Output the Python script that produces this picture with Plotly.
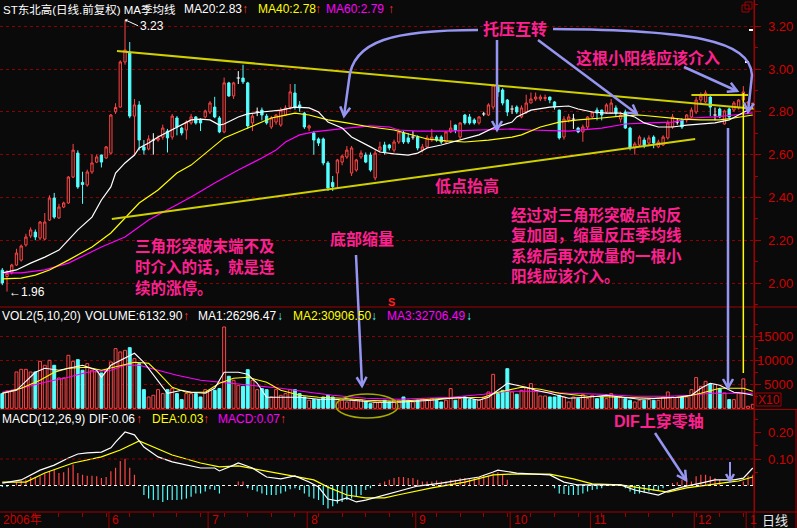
import plotly.graph_objects as go

# ---------------- data ----------------
opens = [2.06, 2.03, 2.047, 2.084, 2.107, 2.178, 2.22, 2.238, 2.21, 2.205,
         2.294, 2.397, 2.304, 2.355, 2.374, 2.495, 2.607, 2.47, 2.458, 2.519,
         2.565, 2.598, 2.584, 2.607, 2.80, 2.822, 3.033, 3.079, 2.78, 2.832,
         2.636, 2.626, 2.668, 2.668, 2.682, 2.71, 2.682, 2.771, 2.724, 2.715,
         2.748, 2.776, 2.762, 2.776, 2.799, 2.822, 2.771, 2.706, 2.935, 2.874,
         2.958, 2.958, 2.935, 2.748, 2.80, 2.808, 2.78, 2.729, 2.752, 2.738,
         2.785, 2.822, 2.888, 2.832, 2.794, 2.724, 2.701, 2.673, 2.673, 2.561,
         2.47, 2.514, 2.565, 2.589, 2.514, 2.528, 2.589, 2.598, 2.598, 2.491,
         2.621, 2.645, 2.645, 2.621, 2.659, 2.701, 2.678, 2.682, 2.682, 2.621,
         2.636, 2.668, 2.682, 2.682, 2.659, 2.706, 2.738, 2.682, 2.785, 2.776,
         2.762, 2.748, 2.79, 2.785, 2.822, 2.916, 2.902, 2.855, 2.813, 2.822,
         2.776, 2.799, 2.841, 2.86, 2.86, 2.862, 2.869, 2.846, 2.808, 2.682,
         2.762, 2.766, 2.724, 2.706, 2.729, 2.776, 2.808, 2.808, 2.799, 2.794,
         2.818, 2.766, 2.799, 2.724, 2.631, 2.645, 2.668, 2.654, 2.682, 2.636,
         2.645, 2.678, 2.729, 2.752, 2.762, 2.762, 2.776, 2.799, 2.855, 2.846,
         2.869, 2.785, 2.813, 2.743, 2.813, 2.808, 2.818, 2.855, 2.84, 2.835]
highs = [2.07, 2.06, 2.09, 2.16, 2.18, 2.23, 2.26, 2.25, 2.29, 2.327,
         2.41, 2.421, 2.37, 2.38, 2.50, 2.65, 2.62, 2.52, 2.53, 2.60,
         2.60, 2.60, 2.64, 2.79, 2.84, 3.04, 3.23, 3.126, 2.86, 2.85,
         2.668, 2.69, 2.70, 2.69, 2.74, 2.72, 2.79, 2.78, 2.73, 2.76,
         2.79, 2.78, 2.77, 2.81, 2.85, 2.87, 2.78, 2.96, 2.94, 2.94,
         2.99, 3.02, 2.94, 2.79, 2.82, 2.82, 2.79, 2.78, 2.79, 2.82,
         2.83, 2.93, 2.93, 2.85, 2.80, 2.74, 2.71, 2.68, 2.68, 2.57,
         2.50, 2.58, 2.60, 2.64, 2.64, 2.58, 2.62, 2.61, 2.61, 2.62,
         2.66, 2.66, 2.65, 2.67, 2.72, 2.71, 2.70, 2.71, 2.69, 2.65,
         2.69, 2.72, 2.69, 2.69, 2.71, 2.76, 2.74, 2.75, 2.79, 2.79,
         2.77, 2.78, 2.80, 2.84, 2.93, 2.92, 2.91, 2.86, 2.83, 2.83,
         2.83, 2.88, 2.89, 2.89, 2.88, 2.88, 2.87, 2.85, 2.81, 2.78,
         2.79, 2.79, 2.73, 2.74, 2.78, 2.80, 2.82, 2.81, 2.84, 2.86,
         2.83, 2.80, 2.81, 2.73, 2.66, 2.69, 2.68, 2.69, 2.69, 2.67,
         2.69, 2.76, 2.79, 2.77, 2.77, 2.79, 2.82, 2.87, 2.89, 2.90,
         2.88, 2.82, 2.82, 2.81, 2.82, 2.85, 2.86, 2.92, 2.85, 2.84]
lows = [1.99, 1.96, 2.04, 2.08, 2.10, 2.17, 2.21, 2.20, 2.20, 2.20,
        2.29, 2.30, 2.30, 2.35, 2.37, 2.49, 2.44, 2.37, 2.45, 2.51,
        2.56, 2.54, 2.58, 2.60, 2.79, 2.82, 3.02, 2.77, 2.60, 2.62,
        2.60, 2.62, 2.60, 2.66, 2.67, 2.61, 2.67, 2.69, 2.69, 2.67,
        2.74, 2.74, 2.71, 2.77, 2.79, 2.77, 2.70, 2.70, 2.87, 2.86,
        2.93, 2.93, 2.72, 2.71, 2.78, 2.76, 2.74, 2.72, 2.74, 2.73,
        2.78, 2.81, 2.81, 2.80, 2.72, 2.71, 2.60, 2.64, 2.55, 2.43,
        2.43, 2.44, 2.55, 2.58, 2.50, 2.52, 2.58, 2.56, 2.52, 2.48,
        2.61, 2.60, 2.62, 2.61, 2.65, 2.65, 2.65, 2.67, 2.62, 2.61,
        2.63, 2.66, 2.66, 2.65, 2.65, 2.70, 2.70, 2.67, 2.74, 2.74,
        2.74, 2.74, 2.78, 2.78, 2.81, 2.87, 2.83, 2.78, 2.79, 2.79,
        2.77, 2.79, 2.84, 2.85, 2.85, 2.85, 2.84, 2.81, 2.67, 2.67,
        2.75, 2.72, 2.70, 2.66, 2.72, 2.77, 2.76, 2.76, 2.79, 2.79,
        2.78, 2.75, 2.72, 2.62, 2.60, 2.64, 2.63, 2.64, 2.63, 2.63,
        2.64, 2.67, 2.72, 2.74, 2.72, 2.75, 2.77, 2.79, 2.84, 2.84,
        2.78, 2.76, 2.77, 2.74, 2.77, 2.80, 2.81, 2.85, 2.83, 2.83]
closes = [2.00, 2.045, 2.084, 2.14, 2.173, 2.215, 2.248, 2.215, 2.285, 2.285,
          2.397, 2.308, 2.355, 2.374, 2.495, 2.621, 2.449, 2.46, 2.519, 2.561,
          2.589, 2.565, 2.636, 2.785, 2.82, 3.033, 3.089, 2.78, 2.832, 2.668,
          2.621, 2.673, 2.668, 2.678, 2.724, 2.678, 2.78, 2.729, 2.701, 2.752,
          2.776, 2.748, 2.748, 2.804, 2.841, 2.776, 2.706, 2.935, 2.874, 2.935,
          2.958, 2.94, 2.734, 2.78, 2.80, 2.785, 2.748, 2.771, 2.785, 2.808,
          2.818, 2.893, 2.822, 2.818, 2.729, 2.734, 2.668, 2.654, 2.561, 2.444,
          2.45, 2.575, 2.593, 2.621, 2.631, 2.575, 2.607, 2.565, 2.528, 2.607,
          2.636, 2.612, 2.631, 2.659, 2.706, 2.659, 2.659, 2.682, 2.631, 2.636,
          2.678, 2.682, 2.668, 2.659, 2.706, 2.724, 2.715, 2.748, 2.748, 2.748,
          2.748, 2.776, 2.79, 2.832, 2.925, 2.893, 2.841, 2.799, 2.813, 2.799,
          2.818, 2.841, 2.86, 2.869, 2.869, 2.867, 2.855, 2.822, 2.678, 2.766,
          2.776, 2.766, 2.706, 2.729, 2.776, 2.799, 2.794, 2.785, 2.832, 2.841,
          2.794, 2.785, 2.724, 2.631, 2.65, 2.682, 2.645, 2.678, 2.654, 2.659,
          2.682, 2.748, 2.776, 2.752, 2.729, 2.785, 2.808, 2.855, 2.874, 2.888,
          2.822, 2.785, 2.776, 2.804, 2.776, 2.841, 2.855, 2.893, 2.845, 2.84]

volumes = [3060, 3610, 3750, 7570, 8120, 8120, 7570, 7570, 9790, 8960,
           10000, 8960, 6320, 6320, 11040, 9790, 10140, 7920, 9300, 7920,
           7570, 7360, 8050, 9650, 12430, 11740, 12080, 12640, 10350, 9300,
           3890, 2360, 2710, 3890, 3060, 3890, 4100, 3060, 1810, 3060,
           3060, 3060, 2360, 3890, 3750, 3750, 4100, 16940, 6670, 5830,
           4790, 4580, 8050, 5830, 3890, 4100, 3890, 2360, 3890, 2710,
           3060, 3890, 3890, 3060, 2360, 1670, 1810, 1810, 2360, 2710,
           2360, 1810, 1670, 1320, 1810, 1810, 1810, 1320, 970, 1320,
           1320, 1670, 1320, 1670, 1670,
           2360, 1670, 1320, 1670, 2010, 1670, 2010, 1670, 1320, 1670,
           4100, 1670, 2010, 2360, 1810, 1810, 1810, 2360, 3400, 7080,
           3060, 3750, 8260, 3400, 2920, 3750, 4300, 5140, 3750, 2570,
           2570, 2360, 2360, 2710, 2360, 1320, 2360, 2010, 2850, 2010,
           2710, 2010, 2360, 2010, 3060, 2360, 2360, 2010, 1670, 1320,
           1670, 1670, 1810, 1670, 1670, 2360, 3400, 2360, 2360, 2360,
           2360, 3890, 6390, 4580, 5620, 5140, 5000, 4100, 3190, 1810,
           1810, 3190, 6133, 420, 830]

macd_hist = [-0.006, -0.006, 0.0, 0.012, 0.018, 0.022, 0.032, 0.032, 0.035, 0.045,
             0.054, 0.060, 0.047, 0.050, 0.067, 0.079, 0.047, 0.041, 0.037, 0.037,
             0.035, 0.028, 0.032, 0.054, 0.067, 0.092, 0.101, 0.067, 0.041, 0.0,
             -0.036, -0.049, -0.055, -0.055, -0.062, -0.055, -0.055, -0.055, -0.053, -0.049,
             -0.042, -0.030, -0.030, -0.023, -0.014, -0.017, -0.030, 0.0, 0.0, 0.0,
             0.015, 0.015, -0.010, -0.017, -0.023, -0.030, -0.036, -0.036, -0.036, -0.030,
             -0.023, -0.014, -0.010, -0.017, -0.030, -0.042, -0.049, -0.055, -0.074, -0.087,
             -0.078, -0.068, -0.062, -0.055, -0.049, -0.042, -0.036, -0.017, -0.010, 0.0,
             0.009, 0.015, 0.022, 0.028, 0.032,
             0.032, 0.028, 0.028, 0.022, 0.015, 0.015, 0.015, 0.019, 0.015, 0.015,
             0.022, 0.022, 0.028, 0.028, 0.024, 0.028, 0.032, 0.041, 0.037, 0.045,
             0.050, 0.041, 0.022, 0.0, 0.0, 0.0, 0.0, 0.0, 0.0, 0.0,
             0.0, 0.0, -0.010, -0.030, -0.032, -0.036, -0.036, -0.036, -0.030, -0.023,
             -0.017, -0.014, -0.010, 0.0, 0.0, 0.0, 0.0, -0.010, -0.023, -0.032,
             -0.030, -0.027, -0.023, -0.019, -0.017, -0.010, 0.0, 0.009, 0.012, 0.022,
             0.028, 0.015, 0.035, 0.041, 0.041, 0.035, 0.028, 0.022, 0.0, 0.0,
             0.0, 0.0, 0.015, 0.037, 0.041]

dif_idx = [0, 4, 8, 11, 14, 16, 18, 21, 23, 24, 26, 28, 30, 33, 36, 42, 45, 46, 49, 50,
           53, 56, 59, 62, 65, 67, 69, 71, 73, 75, 77, 81, 84, 88, 93, 97, 101, 104, 105, 109,
           112, 116, 119, 122, 127, 131, 134, 137, 139, 141, 144, 148, 151, 155, 157, 159]
dif_val = [0.009, 0.021, 0.058, 0.077, 0.104, 0.119, 0.123, 0.126, 0.142, 0.164,
           0.202, 0.191, 0.145, 0.108, 0.089, 0.066, 0.066, 0.055, 0.077, 0.085,
           0.066, 0.032, 0.025, 0.036, 0.013, -0.006, -0.051, -0.058, -0.047, -0.062,
           -0.055, -0.036, -0.021, -0.002, 0.009, 0.021, 0.032, 0.051, 0.058, 0.047,
           0.043, 0.040, 0.013, 0.002, 0.002, 0.002, -0.017, -0.028, -0.036, -0.021,
           -0.006, 0.009, 0.021, 0.021, 0.028, 0.066]
dea_idx = [0, 5, 9, 15, 21, 25, 29, 32, 36, 42, 46, 50, 55, 60, 66, 69, 73, 77, 81, 84,
           91, 98, 104, 108, 116, 121, 125, 131, 137, 141, 145, 149, 154, 156, 159]
dea_val = [0.013, 0.013, 0.047, 0.085, 0.108, 0.134, 0.168, 0.145, 0.115, 0.085,
           0.070, 0.074, 0.058, 0.040, 0.021, -0.006, -0.036, -0.047, -0.047, -0.035,
           -0.009, 0.013, 0.040, 0.043, 0.043, 0.025, 0.006, 0.002, -0.013, -0.025,
           -0.009, 0.002, 0.013, 0.017, 0.032]

ma20_idx = [0, 3, 6, 9, 12, 14, 16, 19, 21, 23, 24, 26, 28, 29, 31, 33, 35, 38, 40, 42,
            44, 46, 47, 50, 52, 55, 59, 62, 65, 67, 69, 72, 74, 78, 80, 83, 86, 88, 90, 93,
            97, 101, 104, 108, 109, 112, 116, 120, 122, 125, 128, 131, 134, 136, 139, 142, 145, 148, 151, 154,
            156, 159]
ma20_val = [2.047, 2.061, 2.093, 2.121, 2.154, 2.201, 2.248, 2.308, 2.388, 2.449,
            2.514, 2.561, 2.598, 2.631, 2.654, 2.682, 2.706, 2.738, 2.762, 2.766,
            2.762, 2.738, 2.743, 2.776, 2.790, 2.799, 2.808, 2.822, 2.818, 2.799,
            2.752, 2.724, 2.682, 2.636, 2.612, 2.603, 2.598, 2.607, 2.631, 2.645,
            2.668, 2.692, 2.724, 2.752, 2.776, 2.808, 2.822, 2.827, 2.813, 2.799,
            2.794, 2.794, 2.776, 2.748, 2.729, 2.729, 2.738, 2.743, 2.748, 2.762,
            2.785, 2.82]
ma40_idx = [0, 4, 7, 10, 14, 19, 23, 26, 29, 33, 37, 40, 43, 47, 52, 55, 57, 59, 62, 65,
            69, 73, 78, 83, 87, 90, 94, 98, 103, 108, 110, 114, 118, 122, 127, 131, 135, 139, 144, 148,
            152, 155, 159]
ma40_val = [2.019, 2.023, 2.037, 2.061, 2.107, 2.168, 2.234, 2.304, 2.374, 2.435,
            2.514, 2.551, 2.607, 2.678, 2.724, 2.752, 2.771, 2.780, 2.794, 2.785,
            2.762, 2.748, 2.729, 2.715, 2.692, 2.673, 2.664, 2.659, 2.668, 2.682,
            2.692, 2.729, 2.752, 2.762, 2.771, 2.780, 2.785, 2.776, 2.766, 2.762,
            2.762, 2.771, 2.785]
ma60_idx = [0, 4, 9, 14, 21, 26, 31, 36, 40, 45, 50, 55, 58, 60, 63, 66, 69, 73, 78, 82,
            84, 88, 94, 100, 104, 108, 112, 120, 127, 132, 137, 142, 146, 151, 155, 159]
ma60_val = [2.047, 2.047, 2.061, 2.093, 2.168, 2.215, 2.294, 2.355, 2.402, 2.467,
            2.528, 2.584, 2.621, 2.659, 2.692, 2.706, 2.715, 2.724, 2.734, 2.729,
            2.715, 2.710, 2.710, 2.715, 2.715, 2.720, 2.715, 2.710, 2.724, 2.743,
            2.748, 2.752, 2.771, 2.776, 2.785, 2.795]

vma5_idx = [0, 3, 7, 9, 12, 14, 17, 20, 21, 23, 26, 28, 30, 33, 35, 38, 40, 43, 45, 47,
            50, 52, 54, 56, 59, 63, 67, 70, 74, 79, 84, 91, 95, 98, 101, 103, 105, 107, 109, 111,
            113, 116, 120, 124, 128, 132, 135, 139, 143, 146, 148, 150, 152, 155, 157, 159]
vma5_val = [3125, 3750, 7500, 8330, 7920, 8330, 8960, 7920, 6460, 8960,
            10420, 11460, 9580, 5830, 3125, 3750, 3330, 3125, 4170, 7500,
            7500, 7080, 5210, 2290, 2290, 2290, 1875, 1875, 1670, 1250,
            1250, 1670, 2080, 2290, 1670, 2290, 3750, 5210, 4790, 4370,
            3750, 3125, 2080, 2290, 2710, 2290, 1875, 2080, 2290, 2710,
            4170, 5210, 4790, 3330, 3125, 2710]
vma10_idx = [0, 4, 8, 11, 14, 18, 21, 25, 28, 31, 33, 36, 39, 43, 46, 49, 52, 56, 59, 63,
             67, 72, 77, 84, 94, 102, 105, 110, 114, 118, 124, 131, 138, 144, 148, 152, 157, 159]
vma10_val = [3125, 4170, 5830, 7500, 8330, 8540, 7920, 8960, 9580, 9375,
             7500, 4370, 3330, 3330, 5210, 6250, 6460, 5420, 3750, 2710,
             2290, 2080, 1670, 1460, 2080, 2290, 3330, 4370, 3960, 3125,
             2500, 2290, 2080, 2290, 3125, 4170, 4170, 3540]
vma20_idx = [0, 4, 9, 14, 18, 23, 26, 29, 33, 37, 42, 48, 53, 59, 65, 70, 77, 84, 95, 102,
             107, 112, 120, 127, 134, 141, 146, 150, 155, 159]
vma20_val = [3330, 4170, 5420, 6460, 7500, 7920, 8960, 8960, 7920, 6870,
             5830, 5210, 4790, 4170, 3330, 2710, 2080, 1875, 2290, 2920,
             3540, 3540, 3125, 2920, 2500, 2500, 2710, 3125, 3125, 3125]

# hand-drawn trend lines (index, price)
upper_line_idx = [24.3, 159.3]
upper_line_val = [3.084, 2.814]
lower_line_idx = [23.2, 146.8]
lower_line_val = [2.299, 2.673]
resist_idx = [146, 158]
resist_val = [2.878, 2.878]

month_start = [23, 44, 65, 88, 108, 125, 147, 158]
month_text = ["6", "7", "8", "9", "10", "11", "12", "1"]
price_ticks = [2.00, 2.20, 2.40, 2.60, 2.80, 3.00, 3.20]
vol_ticks = [5000, 10000, 15000]
macd_ticks = [0.10, 0.20]

note_left = ["三角形突破末端不及", "时介入的话，就是连", "续的涨停。"]
note_right = ["经过对三角形突破点的反", "复加固，缩量反压季均线", "系统后再次放量的一根小", "阳线应该介入。"]

# ---------------- geometry / colours ----------------
W, H = 797, 528
PW, PH = 754, 512
BG = '#0a0a0a'
RED = '#ff4545'
CYAN = '#54ffff'
AXR = '#a00000'
GRIDR = '#8b0000'
LBLR = '#d00000'
PINK = '#ff2090'
ARROW = '#9696f2'
YEL_T = '#d0d000'

D_PRICE = (PH - 307) / PH
D_VOL = (PH - 409.5) / PH
X_RANGE = [-0.487, 159.26]


def P(x, y):
    return x / PW, (PH - y) / PH


N = len(opens)
idx = list(range(N))
doji = [i for i in idx if closes[i] == opens[i]]
nd = [i for i in idx if closes[i] != opens[i]]

fig = go.Figure()

# candles
fig.add_trace(go.Candlestick(
    x=nd, open=[opens[i] for i in nd], high=[highs[i] for i in nd],
    low=[lows[i] for i in nd], close=[closes[i] for i in nd],
    increasing=dict(line=dict(color=RED, width=1), fillcolor=BG),
    decreasing=dict(line=dict(color=CYAN, width=1), fillcolor=CYAN),
    whiskerwidth=0, hoverinfo='skip', xaxis='x', yaxis='y'))
dx, dy = [], []
for i in doji:
    dx += [i, i, None, i - 0.35, i + 0.35, None]
    dy += [lows[i], highs[i], None, opens[i], opens[i], None]
fig.add_trace(go.Scatter(x=dx, y=dy, mode='lines', line=dict(color='white', width=1),
                         hoverinfo='skip', xaxis='x', yaxis='y'))

# moving averages
for xi, yv, c in [(ma60_idx, ma60_val, '#ff00ff'), (ma40_idx, ma40_val, '#ffff00'),
                  (ma20_idx, ma20_val, '#ffffff')]:
    fig.add_trace(go.Scatter(x=xi, y=yv, mode='lines', line=dict(color=c, width=1.2),
                             hoverinfo='skip', xaxis='x', yaxis='y'))

# trend lines
for xi, yv in [(upper_line_idx, upper_line_val), (lower_line_idx, lower_line_val),
               (resist_idx, resist_val)]:
    fig.add_trace(go.Scatter(x=xi, y=yv, mode='lines', line=dict(color=YEL_T, width=2),
                             hoverinfo='skip', xaxis='x', yaxis='y'))

# volume
up_flags = [closes[i] >= opens[i] for i in idx]
fig.add_trace(go.Bar(
    x=idx, y=volumes, width=0.62,
    marker=dict(color=[BG if u else CYAN for u in up_flags],
                line=dict(color=[RED if u else CYAN for u in up_flags], width=1)),
    hoverinfo='skip', xaxis='x', yaxis='y2'))
for xi, yv, c in [(vma20_idx, vma20_val, '#ff00ff'), (vma10_idx, vma10_val, '#ffff00'),
                  (vma5_idx, vma5_val, '#ffffff')]:
    fig.add_trace(go.Scatter(x=xi, y=yv, mode='lines', line=dict(color=c, width=1.1),
                             hoverinfo='skip', xaxis='x', yaxis='y2'))

# MACD
fig.add_trace(go.Bar(
    x=idx, y=macd_hist, width=0.25,
    marker=dict(color=[RED if v >= 0 else CYAN for v in macd_hist], line=dict(width=0)),
    hoverinfo='skip', xaxis='x', yaxis='y3'))
fig.add_trace(go.Scatter(x=dea_idx, y=dea_val, mode='lines', line=dict(color='#ffff00', width=1.2),
                         hoverinfo='skip', xaxis='x', yaxis='y3'))
fig.add_trace(go.Scatter(x=dif_idx, y=dif_val, mode='lines', line=dict(color='#ffffff', width=1.2),
                         hoverinfo='skip', xaxis='x', yaxis='y3'))

shapes = []
annotations = []


def line_px(x0, y0, x1, y1, color=AXR, width=1, dash=None):
    a, b = P(x0, y0)
    c, d = P(x1, y1)
    ln = dict(color=color, width=width)
    if dash:
        ln['dash'] = dash
    shapes.append(dict(type='line', xref='paper', yref='paper', x0=a, y0=b, x1=c, y1=d, line=ln))


def text_px(x, y, s, color, size=12, anchor='left', family='Liberation Sans, Noto Sans CJK SC', bold=False, align='left'):
    a, b = P(x, y)
    annotations.append(dict(xref='paper', yref='paper', x=a, y=b, text=(f'<b>{s}</b>' if bold else s),
                            showarrow=False, xanchor=anchor, yanchor='middle', align=align,
                            borderpad=0, font=dict(color=color, size=size, family=family)))


def path_px(pts, cmds, color=ARROW, width=2.5):
    parts = []
    k = 0
    for cmd, n in cmds:
        seg = ' '.join(f'{pts[j][0] / PW:.5f},{(PH - pts[j][1]) / PH:.5f}' for j in range(k, k + n))
        parts.append(f'{cmd} {seg}')
        k += n
    shapes.append(dict(type='path', xref='paper', yref='paper', path=' '.join(parts),
                       line=dict(color=color, width=width)))


def head_px(tip, prev, L=9, Wd=5, color=ARROW):
    import math
    dxv, dyv = tip[0] - prev[0], tip[1] - prev[1]
    n = math.hypot(dxv, dyv)
    ux, uy = dxv / n, dyv / n
    nx, ny = -uy, ux
    left = (tip[0] - L * ux + Wd * nx, tip[1] - L * uy + Wd * ny)
    right = (tip[0] - L * ux - Wd * nx, tip[1] - L * uy - Wd * ny)
    path_px([left, tip, right], [('M', 1), ('L', 1), ('L', 1)], color=color, width=2.5)


# panel frame lines
line_px(0, 307, W, 307)
line_px(0, 409.5, W, 409.5)
line_px(0, 512, W, 512)
line_px(754, 0, 754, H)
line_px(796, 409.5, 796, H)

# zero line & 0.10 grid in MACD
shapes.append(dict(type='line', xref='paper', yref='y3', x0=0, x1=1, y0=0, y1=0,
                   line=dict(color='#ffffff', width=1, dash='dot')))
shapes.append(dict(type='line', xref='paper', yref='y3', x0=0, x1=1, y0=0.1, y1=0.1,
                   line=dict(color=GRIDR, width=1, dash='dot')))

# vertical yellow marker line
shapes.append(dict(type='line', xref='x', yref='paper', x0=157, x1=157,
                   y0=P(0, 373)[1], y1=P(0, 93)[1], line=dict(color='#ffff00', width=1.5)))

# month separators & labels
for ms, mt in zip(month_start, month_text):
    shapes.append(dict(type='line', xref='x', yref='paper', x0=ms - 0.4, x1=ms - 0.4,
                       y0=-16 / PH, y1=0, line=dict(color=AXR, width=1)))
    annotations.append(dict(xref='x', yref='paper', x=ms - 0.1, y=-8 / PH, text=mt, showarrow=False,
                            xanchor='left', yanchor='middle',
                            font=dict(color=LBLR, size=12, family='Liberation Sans')))
annotations.append(dict(xref='x', yref='paper', x=-0.3, y=-8 / PH, text='2006年', showarrow=False,
                        xanchor='left', yanchor='middle',
                        font=dict(color=LBLR, size=12, family='Liberation Sans, Noto Sans CJK SC')))
text_px(775, 520, '日线', '#e8e8e8', size=13, anchor='center')

# right tick labels
for v in price_ticks:
    annotations.append(dict(xref='paper', yref='y', x=795 / PW, y=v, text=f'{v:.2f}', showarrow=False,
                            xanchor='right', yanchor='middle', font=dict(color=LBLR, size=13, family='Liberation Sans')))
for v in vol_ticks:
    annotations.append(dict(xref='paper', yref='y2', x=795 / PW, y=v, text=f'{v}', showarrow=False,
                            xanchor='right', yanchor='middle', font=dict(color=LBLR, size=13, family='Liberation Sans')))
for v in macd_ticks:
    annotations.append(dict(xref='paper', yref='y3', x=795 / PW, y=v, text=f'{v:.2f}', showarrow=False,
                            xanchor='right', yanchor='middle', font=dict(color=LBLR, size=13, family='Liberation Sans')))
# X10 box
a0, b0 = P(756, 406)
a1, b1 = P(781, 393)
shapes.append(dict(type='rect', xref='paper', yref='paper', x0=a0, y0=b0, x1=a1, y1=b1,
                   line=dict(color=AXR, width=1)))
text_px(768.5, 399.5, 'X10', LBLR, size=12, anchor='center')
# little icon top right
for (x0, y0, x1, y1) in [(742, 5, 749, 12), (745, 2, 752, 9)]:
    a0, b0 = P(x0, y1)
    a1, b1 = P(x1, y0)
    shapes.append(dict(type='rect', xref='paper', yref='paper', x0=a0, y0=b0, x1=a1, y1=b1,
                       line=dict(color=AXR, width=1)))
line_px(749, 30, 753, 30, color='white', width=2)
line_px(745, 62, 749, 62, color='white', width=2)

# headers
text_px(2, 9, 'ST东北高(日线.前复权) MA季均线', '#ffffff', size=11.5)
for x, s, c in [(183, 'MA20:2.83', '#ffffff'),
                (241, '↑', '#ff3030'), (257, 'MA40:2.78', '#ffff00'), (314, '↑', '#ff3030'),
                (325, 'MA60:2.79', '#ff00ff'), (387, '↑', '#ff3030')]:
    text_px(x, 9, s, c)
for x, s, c in [(1, 'VOL2(5,10,20)', '#ffffff'), (84, 'VOLUME:6132.90', '#ffffff'), (182, '↑', '#ff3030'),
                (197, 'MA1:26296.47', '#ffffff'), (276, '↓', CYAN), (292, 'MA2:30906.50', '#ffff00'),
                (370, '↓', CYAN), (386, 'MA3:32706.49', '#ff00ff'), (465, '↓', CYAN)]:
    text_px(x, 316, s, c)
for x, s, c in [(1, 'MACD(12,26,9)', '#ffffff'), (88, 'DIF:0.06', '#ffffff'), (135, '↑', '#ff3030'),
                (151, 'DEA:0.03', '#ffff00'), (202, '↑', '#ff3030'), (217, 'MACD:0.07', '#ff00ff'),
                (279, '↑', '#ff3030')]:
    text_px(x, 419, s, c)
text_px(387, 302, 'S', '#ff2020', size=11, bold=True)

# high / low labels
annotations.append(dict(xref='x', yref='y', x=26, y=3.23, text='3.23', showarrow=True, ax=13, ay=6,
                        xanchor='left', yanchor='middle', arrowhead=1, arrowsize=0.7, arrowwidth=1,
                        arrowcolor='white', standoff=0, font=dict(color='white', size=12, family='Liberation Sans')))
annotations.append(dict(xref='x', yref='y', x=1, y=1.96, text='←1.96', showarrow=False,
                        xanchor='left', yanchor='middle', font=dict(color='white', size=12, family='Liberation Sans')))

# pink commentary
CJK = 'Noto Sans CJK SC'
text_px(515, 28, '托压互转', PINK, size=16, anchor='center', family=CJK, bold=True)
text_px(648, 57, '这根小阳线应该介入', PINK, size=16, anchor='center', family=CJK, bold=True)
text_px(467, 185, '低点抬高', PINK, size=16, anchor='center', family=CJK, bold=True)
text_px(362, 238, '底部缩量', PINK, size=16, anchor='center', family=CJK, bold=True)
for k, s in enumerate(note_left):
    text_px(134, 245 + 21 * k, s, PINK, size=15.5, family=CJK, bold=True)
for k, s in enumerate(note_right):
    text_px(510, 214 + 20.3 * k, s, PINK, size=15.5, family=CJK, bold=True)
text_px(659, 421, 'DIF上穿零轴', PINK, size=16, anchor='center', family='Liberation Sans, ' + CJK, bold=True)

# arrows
pts = [(478, 30), (395, 30), (352, 40), (349, 80), (344, 116)]
path_px(pts, [('M', 1), ('C', 3), ('L', 1)])
head_px((344, 116), (349, 80))
path_px([(497, 40), (497, 130)], [('M', 1), ('L', 1)])
head_px((497, 130), (497, 40))
path_px([(538, 40), (637, 114)], [('M', 1), ('L', 1)])
head_px((637, 114), (538, 40))
pts = [(553, 29), (690, 30), (750, 40), (752, 75), (748, 112)]
path_px(pts, [('M', 1), ('C', 3), ('L', 1)])
head_px((748, 112), (752, 75))
path_px([(684, 67), (737, 91)], [('M', 1), ('L', 1)])
head_px((737, 91), (684, 67))
path_px([(728, 128), (728, 388)], [('M', 1), ('L', 1)])
head_px((728, 388), (728, 128))
path_px([(356, 255), (362, 386)], [('M', 1), ('L', 1)])
head_px((362, 386), (356, 255))
path_px([(655, 433), (686, 480)], [('M', 1), ('L', 1)])
head_px((686, 480), (655, 433))
path_px([(730, 462), (730, 481)], [('M', 1), ('L', 1)], width=2)
head_px((730, 481), (730, 462), L=7, Wd=4)

# ellipse (bottom volume)
a0, b0 = P(336, 418)
a1, b1 = P(398, 394)
shapes.append(dict(type='circle', xref='paper', yref='paper', x0=a0, y0=b0, x1=a1, y1=b1,
                   line=dict(color='#a8a800', width=1.5)))

fig.update_layout(
    width=W, height=H, margin=dict(l=0, r=W - PW, t=0, b=H - PH),
    paper_bgcolor=BG, plot_bgcolor=BG, showlegend=False, barmode='overlay',
    xaxis=dict(range=X_RANGE, anchor='y3', showgrid=False, zeroline=False, showline=False,
               showticklabels=False, ticks='outside', ticklen=4, tickcolor=AXR, tick0=2, dtick=5,
               rangeslider=dict(visible=False), fixedrange=True),
    yaxis=dict(domain=[D_PRICE, 1], range=[1.8879, 3.3224], side='right', anchor='x',
               tickmode='linear', tick0=2.0, dtick=0.2, showticklabels=False,
               ticks='outside', ticklen=6, tickcolor=AXR,
               showgrid=True, gridcolor=GRIDR, griddash='dot', gridwidth=1, zeroline=False,
               showline=True, linecolor=AXR,
               minor=dict(dtick=0.1, tick0=2.0, ticks='outside', ticklen=3, tickcolor=AXR, showgrid=False),
               fixedrange=True),
    yaxis2=dict(domain=[D_VOL, D_PRICE], range=[-250, 21104], side='right', anchor='x',
                tickmode='array', tickvals=vol_ticks, showticklabels=False,
                ticks='outside', ticklen=6, tickcolor=AXR,
                showgrid=True, gridcolor=GRIDR, griddash='dot', gridwidth=1, zeroline=False,
                showline=True, linecolor=AXR,
                minor=dict(tickmode='array', tickvals=[2500, 7500, 12500, 17500], ticks='outside',
                           ticklen=3, tickcolor=AXR, showgrid=False),
                fixedrange=True),
    yaxis3=dict(domain=[0, D_VOL], range=[-0.1, 0.2868], side='right', anchor='x',
                tickmode='array', tickvals=macd_ticks, showticklabels=False,
                ticks='outside', ticklen=6, tickcolor=AXR, showgrid=False, zeroline=False,
                showline=True, linecolor=AXR,
                minor=dict(tickmode='array', tickvals=[0.05, 0.15, 0.25], ticks='outside',
                           ticklen=3, tickcolor=AXR, showgrid=False),
                fixedrange=True),
    shapes=shapes, annotations=annotations,
)

fig.write_html("out.html", config={'displayModeBar': False, 'staticPlot': True},
               post_script="document.body.style.margin='0px';document.body.style.overflow='hidden';"
                           "document.documentElement.style.background='#0a0a0a';")
